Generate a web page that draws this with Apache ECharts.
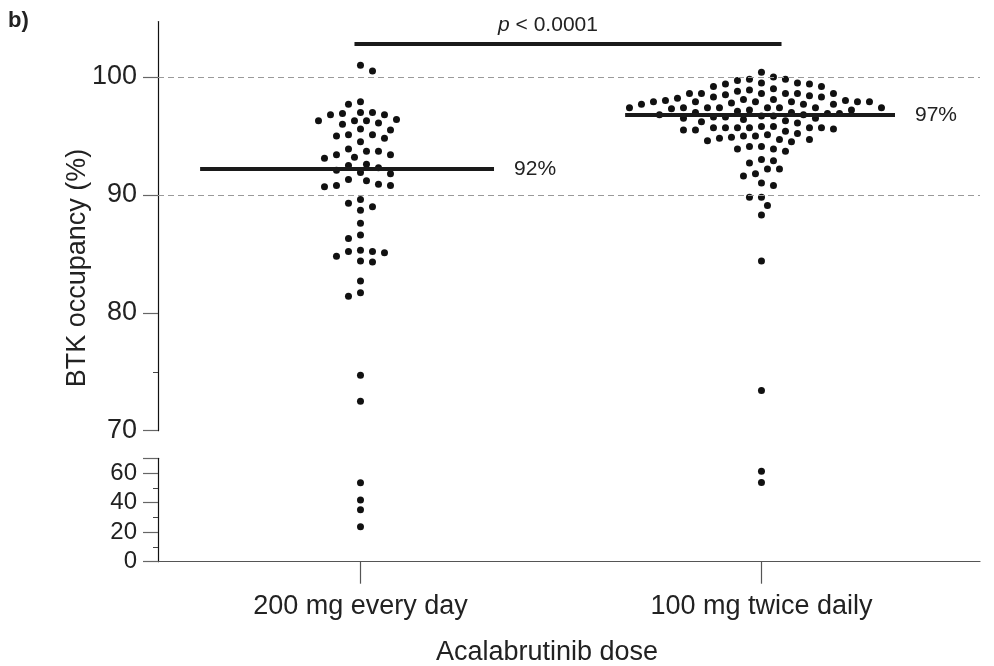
<!DOCTYPE html>
<html>
<head>
<meta charset="utf-8">
<script src="https://cdn.jsdelivr.net/npm/echarts@6/dist/echarts.min.js"></script>
<style>
  html, body { margin: 0; padding: 0; background: #fff; }
  #chart { width: 994px; height: 666px; }
</style>
</head>
<body>
<div id="chart"></div>
<script>
// values
const categories = ['200 mg every day', '100 mg twice daily']
const occupancy200qd = [
  101.0, 100.5, 97.7, 97.9, 97.0, 96.8, 96.8, 96.9, 97.0, 96.3, 96.3, 96.0, 96.1, 96.3, 96.4,
  95.5, 95.6, 95.1, 94.8, 94.5, 95.0, 95.1, 93.9, 93.7, 93.4, 93.1, 93.2, 93.4, 93.7,
  92.6, 92.3, 91.9, 91.8, 92.1, 92.5, 91.3, 90.8, 90.7, 90.8, 90.9, 91.2,
  89.6, 89.0, 88.7, 89.3, 87.6, 86.6, 86.3, 85.2, 85.1, 85.3, 84.8, 85.2, 84.4, 84.3,
  82.7, 81.7, 81.4, 74.7, 72.5, 53.5, 41.8, 35.2, 23.6
]
const occupancy100bid = [
  100.4, 100.0, 99.8, 99.8, 99.7, 99.5, 99.4, 99.2, 99.4, 99.5, 99.2, 99.0, 98.6, 98.8, 98.9,
  98.6, 98.6, 98.5, 98.6, 98.6, 98.6,
  98.3, 98.2, 98.1, 98.0, 97.9, 97.9, 97.9, 97.9, 97.9, 97.9, 98.0, 98.1, 98.3, 98.4,
  97.7, 97.7, 97.4, 97.4, 97.4, 97.4, 97.2, 97.2, 97.0, 97.3, 97.4, 97.4, 97.4, 97.4, 97.7, 97.8,
  97.1, 97.0, 96.9, 96.9, 96.8, 96.8, 96.7, 96.7, 96.6, 96.6, 96.5, 96.5, 96.4, 96.3,
  95.7, 95.7, 95.7, 95.6, 95.5, 94.7, 95.2, 94.5, 95.1, 96.1, 94.9, 95.8, 95.8, 94.8,
  96.2, 95.0, 94.6, 95.0, 94.7, 95.4, 95.5, 95.7, 95.7, 95.7,
  94.1, 93.9, 93.9, 93.7, 94.1, 93.0, 92.9, 92.7, 92.2, 92.2, 91.8, 91.6, 91.0, 90.8,
  89.8, 89.8, 89.1, 88.3, 84.4, 73.4, 61.2, 53.7
]
const medianValues = [92.2, 96.8]
const medianLabels = ['92%', '97%']
const upperTicks = [70, 80, 90, 100]
const upperMinorTicks = [75]
const lowerTicks = [0, 20, 40, 60]
const lowerMinorTicks = [10, 30, 50]
const gridLineValues = [90, 100]

const BREAK = 70
const FONT = "'Liberation Sans', Arial, sans-serif"
const DOT = '#111'

const chart = echarts.init(document.getElementById('chart'))

const xBase = {
  type: 'value', min: 0.495, max: 2.545,
  splitLine: { show: false }
}

const baseOption = {
  animation: false,
  backgroundColor: '#fff',
  grid: [
    { left: 158, right: 14, top: 21.6, height: 409.1, outerBoundsMode: 'none', containLabel: false },
    { left: 158, right: 14, top: 458.3, height: 103.4, outerBoundsMode: 'none', containLabel: false },
  ],
  xAxis: [
    { ...xBase, gridIndex: 0, show: false },
    {
      ...xBase, gridIndex: 1,
      axisLine: { lineStyle: { color: '#555', width: 1.2 } },
      axisTick: { customValues: [1, 2], length: 22, lineStyle: { color: '#555', width: 1.2 } },
      axisLabel: {
        customValues: [1, 2], margin: 31, fontSize: 27, color: '#222', fontFamily: FONT,
        formatter: v => categories[Math.round(v) - 1],
      },
      name: 'Acalabrutinib dose', nameLocation: 'middle', nameGap: 77,
      nameTextStyle: { fontSize: 27, color: '#222', fontFamily: FONT, padding: [0, 44, 0, 0] },
    },
  ],
  yAxis: [
    {
      type: 'value', gridIndex: 0, position: 'left', min: BREAK, max: 104.7,
      axisLine: { show: true, lineStyle: { color: '#111', width: 1.2 } },
      axisTick: { customValues: upperTicks, length: 15, lineStyle: { color: '#666', width: 1.2 } },
      axisLabel: { customValues: upperTicks, margin: 21, fontSize: 27, color: '#222', fontFamily: FONT },
      splitLine: { show: false },
    },
    {
      type: 'value', gridIndex: 0, position: 'left', offset: 0, min: BREAK, max: 104.7,
      axisLine: { show: false },
      axisTick: { customValues: upperMinorTicks, length: 5, lineStyle: { color: '#444' } },
      axisLabel: { show: false },
      splitLine: { show: false },
    },
    {
      type: 'value', gridIndex: 1, position: 'left', min: 0, max: BREAK,
      axisLine: { show: true, lineStyle: { color: '#111', width: 1.2 } },
      axisTick: { customValues: lowerTicks.concat([BREAK]), length: 15, lineStyle: { color: '#666', width: 1.2 } },
      axisLabel: { customValues: lowerTicks, margin: 21, fontSize: 24, color: '#222', fontFamily: FONT },
      splitLine: { show: false },
    },
    {
      type: 'value', gridIndex: 1, position: 'left', offset: 0, min: 0, max: BREAK,
      axisLine: { show: false },
      axisTick: { customValues: lowerMinorTicks, length: 5, lineStyle: { color: '#444' } },
      axisLabel: { show: false },
      splitLine: { show: false },
    },
  ],
  series: [],
}

chart.setOption(baseOption)

// beeswarm: dodge points sideways in pixel space (half-slot lattice)
const STEP = 6
const MIN_D = 9.6

function swarm(pys) {
  const order = pys.map((_, i) => i).sort((a, b) => pys[a] - pys[b])
  const placed = []
  const offs = new Array(pys.length).fill(0)
  let flip = false
  order.forEach(i => {
    const y = pys[i]
    for (let k = 0; k < 80; k++) {
      const cands = k === 0 ? [0] : (flip ? [-k, k] : [k, -k])
      let found = null
      for (const c of cands) {
        const x = c * STEP
        const hit = placed.some(p => (p[0] - x) ** 2 + (p[1] - y) ** 2 < MIN_D * MIN_D)
        if (!hit) { found = x; break }
      }
      if (found !== null) {
        offs[i] = found
        placed.push([found, y])
        if (found !== 0) flip = !flip
        break
      }
    }
  })
  return offs
}

const unitPx = chart.convertToPixel({ gridIndex: 0 }, [2, 80])[0] - chart.convertToPixel({ gridIndex: 0 }, [1, 80])[0]
const upperData = []
const lowerData = []

;[occupancy200qd, occupancy100bid].forEach((vals, g) => {
  const pys = vals.map(v => chart.convertToPixel({ gridIndex: v >= BREAK ? 0 : 1 }, [g + 1, v])[1])
  const offs = swarm(pys)
  vals.forEach((v, i) => {
    const pt = [g + 1 + offs[i] / unitPx, v]
    if (v >= BREAK) upperData.push(pt)
    else lowerData.push(pt)
  })
})

const medianSpan = [[-0.40, 0.333], [-0.34, 0.333]]
const dotStyle = { color: DOT, opacity: 1 }

chart.setOption({
  series: [
    {
      // dashed reference lines
      type: 'scatter', xAxisIndex: 0, yAxisIndex: 0, data: [], z: 1, silent: true,
      markLine: {
        silent: true, symbol: 'none', animation: false,
        label: { show: false },
        lineStyle: { color: '#9a9a9a', type: [6, 4], width: 1, opacity: 1 },
        data: gridLineValues.map(v => ({ yAxis: v })),
      },
    },
    {
      type: 'scatter', xAxisIndex: 0, yAxisIndex: 0, z: 3, silent: true,
      symbolSize: 7, itemStyle: dotStyle,
      data: upperData,
    },
    {
      type: 'scatter', xAxisIndex: 1, yAxisIndex: 2, z: 3, silent: true,
      symbolSize: 7, itemStyle: dotStyle,
      data: lowerData,
    },
    {
      // medians + significance bar
      type: 'scatter', xAxisIndex: 0, yAxisIndex: 0, data: [], z: 4, silent: true,
      markLine: {
        silent: true, symbol: 'none', animation: false,
        lineStyle: { color: '#1a1a1a', type: 'solid', width: 4, opacity: 1 },
        data: medianValues.map((m, g) => [
          { coord: [g + 1 + medianSpan[g][0], m] },
          {
            coord: [g + 1 + medianSpan[g][1], m],
            label: {
              show: true, position: 'end', distance: 20, formatter: medianLabels[g],
              fontSize: 21, color: '#222', fontFamily: FONT,
            },
          },
        ]).concat([[
          { coord: [0.985, 102.8] },
          { coord: [2.05, 102.8], label: { show: false } },
        ]]),
      },
    },
  ],
  graphic: [
    {
      type: 'text', left: 8, top: 10, silent: true,
      style: { text: 'b)', font: `bold 22px ${FONT}`, fill: '#222' },
    },
    {
      type: 'text', x: 78, y: 268, rotation: Math.PI / 2, silent: true,
      style: {
        text: 'BTK occupancy (%)', font: `27px ${FONT}`, fill: '#222',
        align: 'center', verticalAlign: 'middle',
      },
    },
    {
      type: 'text', x: 548, y: 25, silent: true,
      style: {
        text: '{i|p} < 0.0001', fontSize: 21, fontFamily: FONT, fill: '#222',
        align: 'center', verticalAlign: 'middle',
        rich: { i: { fontStyle: 'italic', fontSize: 21, fontFamily: FONT, fill: '#222' } },
      },
    },
  ],
})
</script>
</body>
</html>
